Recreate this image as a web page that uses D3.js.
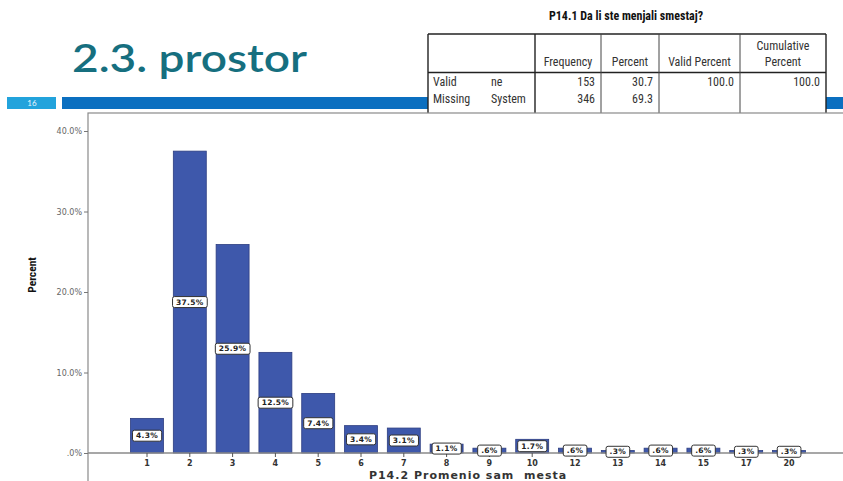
<!DOCTYPE html>
<html>
<head>
<meta charset="utf-8">
<script src="https://cdn.jsdelivr.net/npm/d3@7"></script>
<style>
  html, body { margin: 0; padding: 0; background: #fff; }
  svg { display: block; }
</style>
</head>
<body>
<svg id="chart" width="843" height="481"></svg>
<script>
// Frequency table for P14.1
const tableTitle = "P14.1 Da li ste menjali smestaj?";
const tableHeaders = ["Frequency", "Percent", "Valid Percent", "Cumulative Percent"];
const tableGroups = ["Valid", "Missing"];
const tableRowLabels = ["ne", "System"];
const tableCells = [["153", "30.7", "100.0", "100.0"], ["346", "69.3", "", ""]];

// Histogram of P14.2 (percent of respondents)
const categories = ["1", "2", "3", "4", "5", "6", "7", "8", "9", "10", "12", "13", "14", "15", "17", "20"];
const percents = [4.3, 37.5, 25.9, 12.5, 7.4, 3.4, 3.1, 1.1, 0.6, 1.7, 0.6, 0.3, 0.6, 0.6, 0.3, 0.3];
const yTicks = [0, 10, 20, 30, 40];

const svg = d3.select("#chart");
const narrow = "'Liberation Sans Narrow', 'Arial Narrow', 'Roboto Condensed', sans-serif";

// Slide heading
svg.append("text")
  .attr("x", 72).attr("y", 72)
  .attr("textLength", 235).attr("lengthAdjust", "spacingAndGlyphs")
  .style("font-family", "Lato, 'Open Sans', sans-serif")
  .style("font-size", "39px")
  .style("font-weight", 600)
  .attr("fill", "#166f7f")
  .text("2.3. prostor");

// Slide number strip
svg.append("rect").attr("x", 7).attr("y", 97).attr("width", 49).attr("height", 12).attr("fill", "#22a3dc");
svg.append("text").attr("x", 32).attr("y", 106).attr("text-anchor", "middle")
  .style("font-family", "Lato, sans-serif").style("font-size", "8px").attr("fill", "#e8f6ff").text("16");
svg.append("rect").attr("x", 62).attr("y", 97).attr("width", 781).attr("height", 12).attr("fill", "#0b6fc0");

// Frequency table
const tbl = svg.append("g");
const colX = [428, 535, 601, 659, 740, 826];
tbl.append("rect").attr("x", 428).attr("y", 34).attr("width", 398).attr("height", 90).attr("fill", "#fff");
tbl.append("text").attr("x", 626).attr("y", 20).attr("text-anchor", "middle")
  .style("font-family", narrow).style("font-size", "12px").style("font-weight", "bold")
  .attr("fill", "#111").text(tableTitle);
const lineStyle = s => s.attr("stroke", "#222").attr("stroke-width", 1.4);
tbl.append("line").attr("x1", colX[0]).attr("x2", colX[5]).attr("y1", 34).attr("y2", 34).call(lineStyle);
tbl.append("line").attr("x1", colX[0]).attr("x2", colX[5]).attr("y1", 72.5).attr("y2", 72.5).call(lineStyle);
colX.forEach((x, i) => {
  if (i === 0 || i === 1 || i === 5) {
    tbl.append("line").attr("x1", x).attr("x2", x).attr("y1", 34).attr("y2", 124).call(lineStyle);
  } else {
    tbl.append("line").attr("x1", x).attr("x2", x).attr("y1", 34).attr("y2", 124)
      .attr("stroke", "#444").attr("stroke-width", 1);
  }
});
const tfont = s => s.style("font-family", narrow).style("font-size", "12px").attr("fill", "#333");
// header cells
tableHeaders.forEach((h, i) => {
  const cx = (colX[i + 1] + colX[i + 2]) / 2;
  const words = h === "Cumulative Percent" ? ["Cumulative", "Percent"] : [h];
  words.forEach((w, j) => {
    tbl.append("text").attr("x", cx).attr("y", words.length === 2 ? 50 + j * 16 : 66)
      .attr("text-anchor", "middle").call(tfont).text(w);
  });
});
// body rows
tableGroups.forEach((g, r) => {
  const y = 86 + r * 17;
  tbl.append("text").attr("x", 433).attr("y", y).call(tfont).text(g);
  tbl.append("text").attr("x", 491).attr("y", y).call(tfont).text(tableRowLabels[r]);
  tableCells[r].forEach((v, c) => {
    tbl.append("text").attr("x", colX[c + 2] - 6).attr("y", y)
      .attr("text-anchor", "end").call(tfont).text(v);
  });
});

// Chart panel
svg.append("rect").attr("x", 88).attr("y", 113).attr("width", 800).attr("height", 400)
  .attr("fill", "#fff").attr("stroke", "#8a8a8a").attr("stroke-width", 1.2);

const x = d3.scaleBand().domain(categories).range([125.6, 810.4]).paddingInner(0.23).paddingOuter(0.115);
const y = d3.scaleLinear().domain([0, 40]).range([453, 131]);

const fmtPct = v => d3.format(".1f")(v).replace(/^0\./, ".") + "%";

// Y axis
const yAxis = svg.append("g").attr("transform", "translate(88,0)")
  .call(d3.axisLeft(y).tickValues(yTicks).tickSize(4).tickPadding(2).tickFormat(fmtPct));
yAxis.select(".domain").remove();
yAxis.selectAll(".tick line").attr("stroke", "#777");
yAxis.selectAll("text").style("font-family", "'DejaVu Sans', sans-serif").style("font-size", "8px")
  .attr("fill", "#666");

svg.append("text").attr("transform", "translate(36,275) rotate(-90)").attr("text-anchor", "middle")
  .style("font-family", narrow).style("font-size", "11.5px").style("font-weight", "bold")
  .attr("fill", "#111").text("Percent");

// Bars
svg.append("g").selectAll("rect").data(categories).join("rect")
  .attr("x", (d) => x(d)).attr("width", x.bandwidth())
  .attr("y", (d, i) => y(percents[i]))
  .attr("height", (d, i) => y(0) - y(percents[i]))
  .attr("fill", "#3e58ab").attr("stroke", "#2c3d80").attr("stroke-width", 0.8);

// X axis
svg.append("line").attr("x1", 88).attr("x2", 843).attr("y1", 453).attr("y2", 453)
  .attr("stroke", "#8a8a8a").attr("stroke-width", 1.3);
const xAxis = svg.append("g").attr("transform", "translate(0,453)")
  .call(d3.axisBottom(x).tickSize(4).tickPadding(3));
xAxis.select(".domain").remove();
xAxis.selectAll(".tick line").attr("stroke", "#555");
xAxis.selectAll("text").style("font-family", "'DejaVu Sans', sans-serif").style("font-size", "8px")
  .style("font-weight", "bold").attr("fill", "#333");

svg.append("text").attr("x", 468).attr("y", 478.5).attr("text-anchor", "middle")
  .style("font-family", "'DejaVu Sans', sans-serif").style("font-size", "11px").style("font-weight", "bold")
  .style("letter-spacing", "1px").attr("fill", "#333").attr("xml:space", "preserve")
  .text("P14.2 Promenio sam  mesta");

// Value labels centred in each bar
const lab = svg.append("g").selectAll("g").data(categories).join("g")
  .attr("transform", (d, i) => `translate(${x(d) + x.bandwidth() / 2},${(y(0) + y(percents[i])) / 2})`);
lab.append("text").attr("text-anchor", "middle").attr("dy", "0.35em")
  .style("font-family", "'DejaVu Sans', sans-serif").style("font-size", "7.5px").style("font-weight", "bold")
  .style("letter-spacing", "0.3px").attr("fill", "#222")
  .text((d, i) => fmtPct(percents[i]));
lab.each(function () {
  const g = d3.select(this);
  const bb = g.select("text").node().getBBox();
  g.insert("rect", "text").attr("x", bb.x - 3.5).attr("y", -5.5).attr("width", bb.width + 7).attr("height", 11)
    .attr("rx", 2).attr("fill", "#fff").attr("stroke", "#333").attr("stroke-width", 1);
});
</script>
</body>
</html>
